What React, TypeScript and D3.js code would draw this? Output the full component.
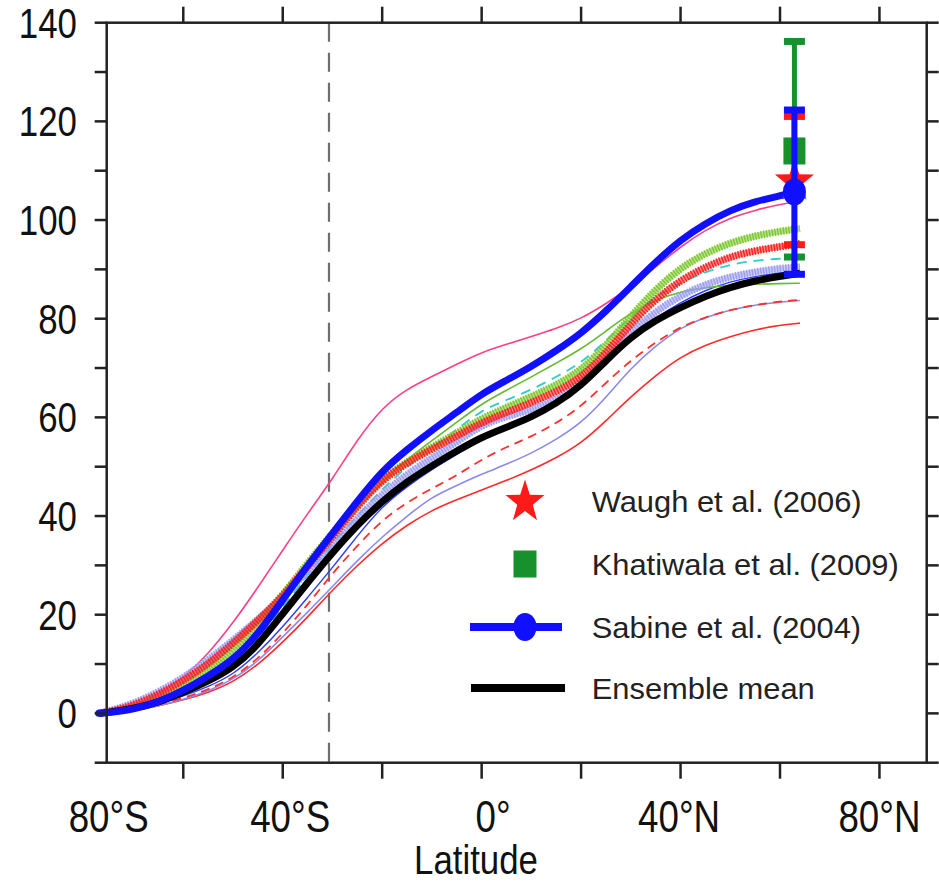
import React from "react";
import * as d3 from "d3";

// ---------- data ----------
const lats = [-77, -75, -70, -65, -60, -55, -50, -45, -40, -35, -30, -25, -20, -15, -10, -5, 0, 5, 10, 15, 20, 25, 30, 35, 40, 45, 50, 55, 60, 64];
const sabineLats = [-77, -75, -70, -65, -60, -55, -50, -45, -40, -35, -30, -25, -20, -15, -10, -5, 0, 5, 10, 15, 20, 25, 30, 35, 40, 45, 50, 55, 60, 63];

const ensembleMean = [0, 0.2, 1, 2.2, 4.2, 6.5, 9.2, 13.8, 20.2, 26.5, 32.6, 38.2, 43, 47, 50.2, 53.2, 56, 58, 60, 62.8, 66.4, 71.5, 76.3, 79.7, 82.3, 84.6, 86.4, 87.7, 88.6, 89.2];
const sabine = [0, 0.1, 0.8, 2.3, 4.6, 7.5, 10.8, 16, 23, 30, 36.5, 43, 49.2, 53.5, 57.4, 61, 64.8, 67.5, 70.3, 73.5, 77, 81.5, 86.5, 91.5, 96, 99.3, 102, 103.8, 104.9, 105.7];
const modelPink = [0, 0.3, 1.5, 3.8, 7.2, 12, 18.3, 25.5, 33.1, 40.5, 47.5, 55.5, 62, 65.8, 68.3, 70.8, 73.2, 74.8, 76.4, 78, 80, 83, 86.5, 90.5, 94.6, 98, 100.5, 102, 103.2, 103.8];
const modelRedHatched = [0, 0.3, 1.6, 3.8, 6.6, 10, 14.2, 18.8, 23.8, 29.8, 35.8, 42, 47.3, 50.8, 53.6, 56.2, 59, 61, 63, 65.2, 68, 73, 79, 84, 87.8, 90.5, 92.6, 93.8, 94.6, 95.2];
const modelGreenHatched = [0, 0.2, 1.2, 3, 5.5, 8.8, 12.8, 18, 24, 30.5, 36.5, 42.5, 47.5, 51, 54, 56.8, 59.8, 62, 64.2, 66.5, 69.5, 74.5, 80.5, 86, 90.3, 93.3, 95.4, 96.8, 97.7, 98.3];
const modelLavenderHatched = [0, 0.4, 2, 4.3, 7.2, 10.8, 14.8, 19, 23.5, 28.8, 34, 39.5, 44.5, 48.5, 51.8, 55, 58.5, 60.2, 61.5, 63.5, 67, 72, 77.3, 81.5, 84.7, 87, 88.5, 89.5, 90.2, 90.5];
const modelGreenThin = [0, 0.2, 1, 2.5, 4.5, 7.2, 10.5, 15.5, 22, 29, 35.5, 41.5, 47, 51.5, 55.3, 59, 62.8, 65.5, 68.2, 71, 73.8, 77.5, 81.2, 83.8, 85.5, 86.3, 86.8, 87, 87.1, 87.2];
const modelCyanDashed = [0, 0.2, 1, 2.4, 4.3, 6.8, 10, 15, 21.5, 28, 34.5, 40, 45.5, 50, 53.8, 57.5, 61.5, 63.5, 65.6, 68.2, 71, 75.5, 80.4, 84.5, 87.3, 89.5, 91, 91.8, 92.2, 92.3];
const modelRedDashed = [0, 0.1, 0.7, 1.8, 3.1, 4.8, 7.2, 11, 16.2, 22, 28.4, 34, 39.2, 42.8, 45.6, 48.2, 51.5, 54, 56.1, 58.8, 62.2, 67, 71.6, 75.2, 78.4, 80.3, 81.8, 82.8, 83.5, 83.8];
const modelLavenderThin = [0, 0.1, 0.6, 1.5, 2.8, 4.5, 6.8, 10.5, 15.5, 20.5, 25.7, 31, 35.8, 40, 43.9, 46.2, 48.5, 50.5, 52.7, 55.5, 58.8, 64, 70, 74.5, 78.2, 80.3, 81.8, 82.8, 83.4, 83.7];
const modelRedThin = [0, 0.1, 0.5, 1.5, 2.7, 4.2, 6.3, 9.8, 14.4, 19.5, 25, 30, 34.5, 38.2, 41.2, 43.3, 45.3, 47.2, 49.3, 51.8, 54.7, 59.3, 64.2, 68.5, 72.3, 74.7, 76.4, 77.8, 78.7, 79.1];
const modelBlueThin = [0, 0.1, 0.8, 2, 3.5, 5.4, 7.8, 12.2, 17.5, 23.5, 29.5, 36, 42, 46, 49.5, 52.5, 55.5, 57.8, 59.8, 62.3, 66, 71, 76, 80.2, 83.3, 85.8, 87.5, 88.6, 89.3, 89.7];

// observational estimates at the northern end
const obsLat = 62.9;
const waugh = { value: 108, low: 95, high: 121 };
const khatiwala = { value: 114, low: 92.5, high: 136.2 };
const sabineObs = { value: 105.7, low: 89, high: 122.3 };

const yTicks = d3.range(-10, 141, 10);
const yLabels = [0, 20, 40, 60, 80, 100, 120, 140];
const xTicks = [-60, -40, -20, 0, 20, 40, 60, 80];
const xLabelText = ["80°S", "40°S", "0°", "40°N", "80°N"];
const xLabelLats = [-75, -38.5, 2.3, 39.7, 80];
const dividerLat = -30.7;

const legendLabels = ["Waugh et al. (2006)", "Khatiwala et al. (2009)", "Sabine et al. (2004)", "Ensemble mean"];

// ---------- layout ----------
const W = 939, H = 882;
const x = d3.scaleLinear().domain([-75.4, 89.5]).range([106.7, 926.7]);
const y = d3.scaleLinear().domain([-10, 140]).range([762.7, 22.7]);

const line = (lt: number[], vals: number[]) =>
  d3.line<number>().x((_, i) => x(lt[i])).y((v) => y(v)).curve(d3.curveBasis)(vals) || "";

const FONT = "'Liberation Sans', Arial, Helvetica, sans-serif";

type Thin = { vals: number[]; color: string; width: number; dash?: string };
const thinLines: Thin[] = [
  { vals: modelRedThin, color: "#ff2a2a", width: 1.6 },
  { vals: modelLavenderThin, color: "#8a8aee", width: 1.6 },
  { vals: modelRedDashed, color: "#ff3030", width: 1.8, dash: "9 6" },
  { vals: modelBlueThin, color: "#2a3cff", width: 1.4 },
  { vals: modelGreenThin, color: "#66bb33", width: 1.6 },
  { vals: modelCyanDashed, color: "#33cccc", width: 1.8, dash: "10 7" },
  { vals: modelPink, color: "#ff3f85", width: 1.6 },
];
const hatched = [
  { vals: modelLavenderHatched, color: "#9c9cf2" },
  { vals: modelGreenHatched, color: "#7cc82c" },
  { vals: modelRedHatched, color: "#ff2020" },
];

function starPath(r: number) {
  const pts: string[] = [];
  for (let i = 0; i < 10; i++) {
    const rad = i % 2 === 0 ? r : r * 0.4;
    const a = -Math.PI / 2 + (i * Math.PI) / 5;
    pts.push(`${(rad * Math.cos(a)).toFixed(2)},${(rad * Math.sin(a)).toFixed(2)}`);
  }
  return "M" + pts.join("L") + "Z";
}

function ErrorBar({ o, color, w }: { o: { low: number; high: number }; color: string; w: number }) {
  const cx = x(obsLat);
  return (
    <g stroke={color}>
      <line x1={cx} x2={cx} y1={y(o.low)} y2={y(o.high)} strokeWidth={w} />
      <line x1={cx - 10.5} x2={cx + 10.5} y1={y(o.low)} y2={y(o.low)} strokeWidth={7} />
      <line x1={cx - 10.5} x2={cx + 10.5} y1={y(o.high)} y2={y(o.high)} strokeWidth={7} />
    </g>
  );
}

export default function App() {
  const left = x.range()[0], right = x.range()[1];
  const top = y.range()[1], bottom = y.range()[0];
  const ox = x(obsLat);
  const legendX = 525;
  const legendRowY = [501, 564, 627, 688];
  const star = starPath(20.5);
  return (
    <svg width={W} height={H} style={{ position: "absolute", left: 0, top: 0, background: "#fff" }} fontFamily={FONT}>
      <rect width={W} height={H} fill="#fff" />
      {/* divider */}
      <line x1={x(dividerLat)} x2={x(dividerLat)} y1={top} y2={bottom} stroke="#6e6e6e" strokeWidth={2.2} strokeDasharray="19 11" />

      {/* model thin lines */}
      {thinLines.map((l, i) => (
        <path key={"t" + i} d={line(lats, l.vals)} fill="none" stroke={l.color} strokeWidth={l.width} strokeDasharray={l.dash} />
      ))}
      {/* hatched (marker) lines */}
      {hatched.map((l, i) => (
        <g key={"h" + i}>
          <path d={line(lats, l.vals)} fill="none" stroke={l.color} strokeOpacity={0.55} strokeWidth={6} />
          <path d={line(lats, l.vals)} fill="none" stroke={l.color} strokeWidth={7.5} strokeDasharray="1.4 1.4" />
        </g>
      ))}
      {/* ensemble mean */}
      <path d={line(lats, ensembleMean)} fill="none" stroke="#000" strokeWidth={7} />
      {/* Sabine */}
      <path d={line(sabineLats, sabine)} fill="none" stroke="#1010ff" strokeWidth={7} strokeLinecap="round" />

      {/* observations */}
      <ErrorBar o={khatiwala} color="#17912b" w={5} />
      <ErrorBar o={waugh} color="#ff1a1a" w={5} />
      <rect x={ox - 11} y={y(khatiwala.value) - 13.5} width={22} height={27} fill="#17912b" />
      <path d={star} transform={`translate(${ox},${y(waugh.value) + 1}) scale(1,1.1)`} fill="#ff1a1a" />
      <ErrorBar o={sabineObs} color="#1010ff" w={6} />
      <ellipse cx={ox} cy={y(sabineObs.value)} rx={11.5} ry={13.5} fill="#1010ff" />

      {/* axes frame */}
      <g stroke="#222" strokeWidth={2.5} fill="none">
        <rect x={left} y={top} width={right - left} height={bottom - top} />
        {yTicks.map((t) => (
          <g key={"yt" + t}>
            <line x1={left - 12} x2={left} y1={y(t)} y2={y(t)} />
            <line x1={right} x2={right + 12} y1={y(t)} y2={y(t)} />
          </g>
        ))}
        {xTicks.map((t) => (
          <g key={"xt" + t}>
            <line x1={x(t)} x2={x(t)} y1={bottom} y2={bottom + 16} />
            <line x1={x(t)} x2={x(t)} y1={top - 16} y2={top} />
          </g>
        ))}
      </g>

      {/* tick labels */}
      <g fill="#111" fontSize={42}>
        {yLabels.map((t) => (
          <text key={"yl" + t} transform={`translate(77,${y(t) + 15}) scale(0.83,1)`} textAnchor="end">
            {t}
          </text>
        ))}
      </g>
      <g fill="#111" fontSize={44}>
        {xLabelText.map((s, i) => (
          <text key={"xl" + i} transform={`translate(${x(xLabelLats[i])},831.7) scale(0.835,1)`} textAnchor="middle">
            {s}
          </text>
        ))}
      </g>
      <text transform="translate(476,874) scale(0.87,1)" textAnchor="middle" fontSize={40} fill="#111">
        Latitude
      </text>

      {/* legend */}
      <g>
        <path d={star} transform={`translate(${legendX},${legendRowY[0] + 1}) scale(1,1.1)`} fill="#ff1a1a" />
        <rect x={legendX - 11.5} y={legendRowY[1] - 13.5} width={23} height={27} fill="#17912b" />
        <line x1={470} x2={562} y1={legendRowY[2]} y2={legendRowY[2]} stroke="#1010ff" strokeWidth={8} />
        <ellipse cx={legendX} cy={legendRowY[2]} rx={11.5} ry={14} fill="#1010ff" />
        <line x1={471} x2={565} y1={legendRowY[3]} y2={legendRowY[3]} stroke="#000" strokeWidth={8} />
        {legendLabels.map((s, i) => (
          <text key={"lg" + i} transform={`translate(591.7,${legendRowY[i] + 11}) scale(1.065,1)`} fontSize={29} fill="#222">
            {s}
          </text>
        ))}
      </g>
    </svg>
  );
}
